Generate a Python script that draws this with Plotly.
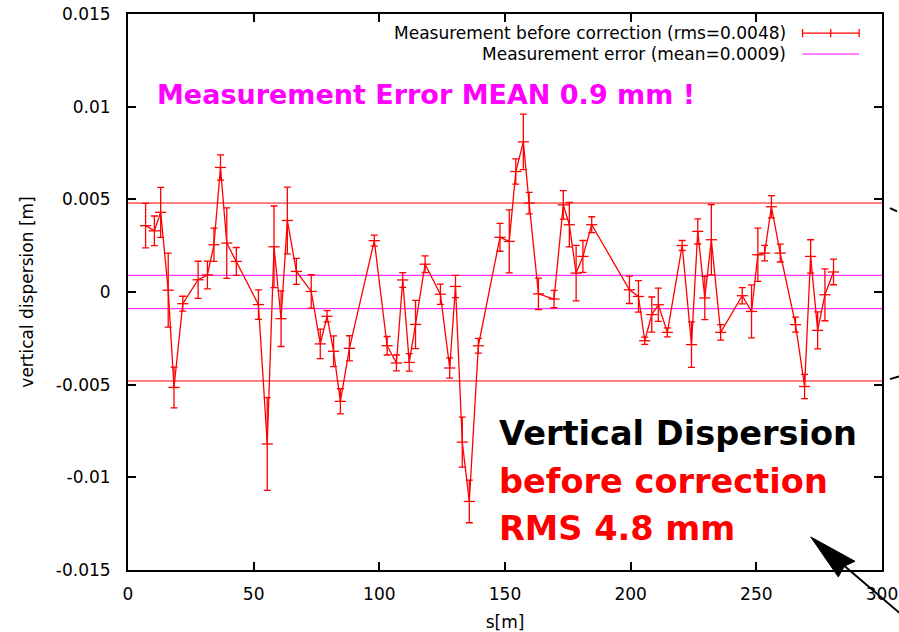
import plotly.graph_objects as go

# ---- data ----
s_pos = [7.0, 10.5, 13.0, 16.0, 18.3, 21.8, 27.9, 31.6, 34.2, 36.8, 39.3, 43.1,
         51.9, 55.4, 58.1, 60.9, 63.4, 67.0, 72.9, 76.5, 79.2, 81.8, 84.5, 88.1,
         98.0, 103.1, 106.8, 109.3, 111.9, 114.4, 118.2, 124.3, 128.0, 130.3, 133.0, 135.8,
         139.4, 148.0, 151.7, 154.3, 157.3, 159.6, 163.3, 169.5, 173.2, 175.6, 178.3, 181.0,
         184.5, 199.5, 203.1, 205.6, 208.4, 211.0, 214.6, 220.5, 224.2, 226.7, 229.5, 232.1,
         235.8, 244.4, 248.1, 250.6, 253.3, 256.0, 259.5, 265.6, 269.2, 271.6, 274.4, 277.3,
         280.7]
disp = [0.00358, 0.0033, 0.0043, 0.0001, -0.00515, -0.00063, 0.00066, 0.00092, 0.00255, 0.00672, 0.00264, 0.00165,
        -0.00068, -0.0082, 0.00244, -0.00144, 0.00386, 0.00111, 0.00003, -0.0028, -0.00131, -0.0032, -0.0059, -0.00304,
        0.00277, -0.0029, -0.00383, 0.00065, -0.0038, -0.00175, 0.0015, -0.00012, -0.0041, 0.0003, -0.0081, -0.0113,
        -0.0029, 0.00295, 0.00273, 0.0065, 0.0081, 0.0048, -0.0001, -0.00038, 0.0047, 0.00363, 0.00102, 0.00192,
        0.00363, 0.00012, -0.00024, -0.00263, -0.00122, -0.00069, -0.00218, 0.00251, -0.00284, 0.00327, -0.00032, 0.00282,
        -0.00218, -0.0002, -0.00105, 0.00201, 0.0021, 0.0046, 0.0021, -0.00176, -0.0051, 0.00192, -0.00207, -0.00015,
        0.00108]
err = [0.0012, 0.0008, 0.00135, 0.002, 0.0011, 0.0004, 0.001, 0.00075, 0.0009, 0.00068, 0.0019, 0.00075,
       0.0008, 0.0025, 0.0022, 0.0015, 0.0018, 0.0007, 0.0009, 0.0008, 0.0003, 0.00083, 0.00068, 0.00068,
       0.0003, 0.0005, 0.00043, 0.0004, 0.00047, 0.0013, 0.00045, 0.00055, 0.00055, 0.0006, 0.00135, 0.00115,
       0.0004, 0.00075, 0.0017, 0.00068, 0.0015, 0.00058, 0.00085, 0.00047, 0.00077, 0.0012, 0.0015, 0.00086,
       0.00043, 0.00074, 0.00085, 0.0002, 0.00095, 0.0009, 0.00024, 0.00027, 0.00123, 0.00068, 0.00117, 0.0019,
       0.00042, 0.00044, 0.00143, 0.00144, 0.00042, 0.0006, 0.00048, 0.0004, 0.00065, 0.0009, 0.001, 0.0014,
       0.00069]
rms = 0.0048
mean_err = 0.0009

x_ticks = [0, 50, 100, 150, 200, 250, 300]
y_ticks = [-0.015, -0.01, -0.005, 0, 0.005, 0.01, 0.015]
y_tick_text = ["-0.015", "-0.01", "-0.005", "0", "0.005", "0.01", "0.015"]

legend_labels = ["Measurement before correction (rms=0.0048)", "Measurement error (mean=0.0009)"]

RED = "#ff0000"
MAG = "#ff00ff"
FONT = "DejaVu Sans"

fig = go.Figure()

for v in (rms, -rms):
    fig.add_trace(go.Scatter(x=[0, 300], y=[v, v], mode="lines",
                             line=dict(color=RED, width=1), hoverinfo="skip", showlegend=False))
for v in (mean_err, -mean_err):
    fig.add_trace(go.Scatter(x=[0, 300], y=[v, v], mode="lines",
                             line=dict(color=MAG, width=1), hoverinfo="skip", showlegend=False))

fig.add_trace(go.Scatter(
    x=s_pos, y=disp, mode="lines+markers",
    line=dict(color=RED, width=1.3),
    marker=dict(symbol="line-ew", size=8, line=dict(color=RED, width=1.3)),
    error_y=dict(type="data", array=err, color=RED, thickness=1.3, width=3.5),
    showlegend=False))

# manual gnuplot-style legend (text right, sample on the right)
leg_y = [0.01397, 0.01284]
fig.add_annotation(x=262.6, y=leg_y[0], xref="x", yref="y", text=legend_labels[0],
                   showarrow=False, xanchor="right", yanchor="middle",
                   font=dict(family=FONT, size=17, color="black"))
fig.add_annotation(x=262.6, y=leg_y[1], xref="x", yref="y", text=legend_labels[1],
                   showarrow=False, xanchor="right", yanchor="middle",
                   font=dict(family=FONT, size=17, color="black"))
shapes = []
shapes.append(dict(type="line", xref="x", yref="y", x0=268.4, x1=290.9, y0=leg_y[0], y1=leg_y[0],
                   line=dict(color=RED, width=1.3)))
for xx in (268.4, 279.6, 290.9):
    shapes.append(dict(type="line", xref="x", yref="y", x0=xx, x1=xx, y0=leg_y[0] - 0.00022,
                       y1=leg_y[0] + 0.00022, line=dict(color=RED, width=1.3)))
shapes.append(dict(type="line", xref="x", yref="y", x0=268.4, x1=290.9, y0=leg_y[1], y1=leg_y[1],
                   line=dict(color=MAG, width=1)))

# texts
fig.add_annotation(x=10.7, y=0.01064, xref="x", yref="y", text="<b>Measurement Error MEAN 0.9 mm !</b>",
                   showarrow=False, xanchor="left", yanchor="middle",
                   font=dict(family=FONT, size=27, color=MAG))
fig.add_annotation(x=146.8, y=-0.00764, xref="x", yref="y", text="<b>Vertical Dispersion</b>",
                   showarrow=False, xanchor="left", yanchor="middle",
                   font=dict(family=FONT, size=33.6, color="black"))
fig.add_annotation(x=146.8, y=-0.0102, xref="x", yref="y", text="<b>before correction</b>",
                   showarrow=False, xanchor="left", yanchor="middle",
                   font=dict(family=FONT, size=33.6, color=RED))
fig.add_annotation(x=146.8, y=-0.01275, xref="x", yref="y", text="<b>RMS 4.8 mm</b>",
                   showarrow=False, xanchor="left", yanchor="middle",
                   font=dict(family=FONT, size=33.6, color=RED))

# arrow (paper coords) and cut-off marks at right edge
def P(px, py):
    return (px - 128) / 754.0, (570.4 - py) / 556.2

tip = P(810.7, 537.3); c1 = P(838.3, 577.3); nt = P(844.5, 566.5); c2 = P(855, 561.7); tail = P(912, 624)
shapes.append(dict(type="line", xref="paper", yref="paper", x0=nt[0], y0=nt[1], x1=tail[0], y1=tail[1],
                   line=dict(color="black", width=2)))
shapes.append(dict(type="path", xref="paper", yref="paper",
                   path=f"M {tip[0]},{tip[1]} L {c1[0]},{c1[1]} L {nt[0]},{nt[1]} L {c2[0]},{c2[1]} Z",
                   fillcolor="black", line=dict(color="black", width=1)))
a = P(890, 208.3); b = P(897, 211.7)
shapes.append(dict(type="line", xref="paper", yref="paper", x0=a[0], y0=a[1], x1=b[0], y1=b[1],
                   line=dict(color="black", width=2)))
a = P(890, 379.5); b = P(899, 376.7)
shapes.append(dict(type="line", xref="paper", yref="paper", x0=a[0], y0=a[1], x1=b[0], y1=b[1],
                   line=dict(color="black", width=2)))

axis_common = dict(ticks="inside", ticklen=8, tickwidth=1.5, tickcolor="black",
                   showline=True, linewidth=2, linecolor="black", mirror="ticks",
                   showgrid=False, zeroline=False, automargin=False,
                   tickfont=dict(family=FONT, size=17, color="black"))

fig.update_layout(
    width=899, height=632,
    margin=dict(l=128, r=17, t=14, b=62, autoexpand=False),
    paper_bgcolor="white", plot_bgcolor="white",
    showlegend=False,
    shapes=shapes,
    xaxis=dict(range=[0, 300], tickvals=x_ticks, ticklabelstandoff=8,
               title=dict(text="s[m]", font=dict(family=FONT, size=17, color="black"), standoff=16),
               **axis_common),
    yaxis=dict(range=[-0.015, 0.015], tickvals=y_ticks, ticktext=y_tick_text, ticklabelstandoff=12,
               title=dict(text="vertical dispersion [m]", font=dict(family=FONT, size=17, color="black"),
                          standoff=18),
               **axis_common),
)

fig.write_html("out.html")
